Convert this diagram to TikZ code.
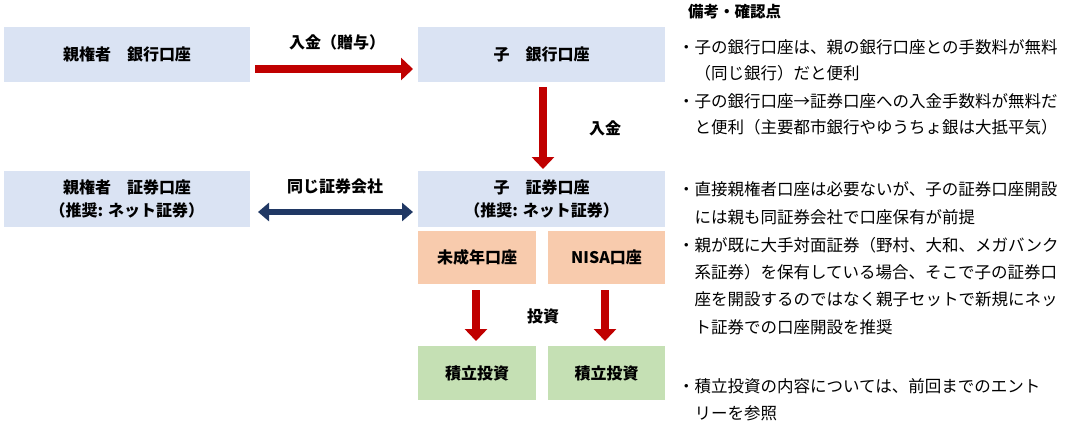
\documentclass[tikz,border=0pt]{standalone}
\usepackage{fontspec}
\setmainfont{Noto Sans CJK JP}
\usetikzlibrary{arrows.meta}
\definecolor{bl}{HTML}{DAE3F3}
\definecolor{og}{HTML}{F8CBAD}
\definecolor{gr}{HTML}{C5E0B4}
\definecolor{rd}{HTML}{C00000}
\definecolor{nv}{HTML}{203864}
\begin{document}
\begin{tikzpicture}[x=1pt,y=-1pt,
 box/.style={draw=none,inner sep=0pt,font=\fontsize{16}{23}\selectfont\bfseries,align=center},
 lab/.style={font=\fontsize{16}{20}\selectfont\bfseries},
 note/.style={anchor=west,inner sep=0pt,font=\fontsize{16.5}{20}\selectfont},
 rarr/.style={draw=rd,line width=8pt,-{Triangle[length=12pt,width=22pt]}},
 barr/.style={draw=nv,line width=6pt,{Triangle[length=11pt,width=18pt]}-{Triangle[length=11pt,width=18pt]}}]
\useasboundingbox (0,0) rectangle (1071,436);
\fill[bl] (4,27) rectangle (250,82); \node[box] (pb) at (127,54.5) {親権者\quad 銀行口座};
\fill[bl] (418,27) rectangle (665,82); \node[box] (cb) at (541.5,54.5) {子\quad 銀行口座};
\fill[bl] (4,171) rectangle (250,227); \node[box] (ps) at (127,199) {親権者\quad 証券口座\\（推奨: ネット証券）};
\fill[bl] (418,171) rectangle (665,227); \node[box] (cs) at (541.5,199) {子\quad 証券口座\\（推奨: ネット証券）};
\fill[og] (418,231) rectangle (536,284); \node[box] (mi) at (477,257.5) {未成年口座};
\fill[og] (548,231) rectangle (665,284); \node[box] (ni) at (606.5,257.5) {NISA口座};
\fill[gr] (418,346) rectangle (536,400); \node[box] (t1) at (477,373) {積立投資};
\fill[gr] (548,346) rectangle (665,400); \node[box] (t2) at (606.5,373) {積立投資};
\coordinate (a1) at (255,69); \coordinate (a2) at (413,69);
\draw[rarr] (a1) -- (a2);
\coordinate (d1) at (543,87); \coordinate (d2) at (543,169);
\draw[rarr] (d1) -- (d2);
\coordinate (b1) at (258,212); \coordinate (b2) at (413,212);
\draw[barr] (b1) -- (b2);
\coordinate (e1) at (476,290); \coordinate (e2) at (476,341);
\draw[rarr] (e1) -- (e2);
\coordinate (f1) at (605,290); \coordinate (f2) at (605,341);
\draw[rarr] (f1) -- (f2);
\node[lab] at (337,42) {入金（贈与）};
\node[lab] at (605,128) {入金};
\node[lab] at (335,186) {同じ証券会社};
\node[lab] at (543,316) {投資};
\node[note,font=\fontsize{15.5}{18}\selectfont\bfseries] at (688,12) {備考・確認点};
\node[note] at (678,47) {・子の銀行口座は、親の銀行口座との手数料が無料};
\node[note] at (678,73) {\hspace{1em}（同じ銀行）だと便利};
\node[note] at (678,101) {・子の銀行口座→証券口座への入金手数料が無料だ};
\node[note] at (678,127) {\hspace{1em}と便利（主要都市銀行やゆうちょ銀は大抵平気）};
\node[note] at (678,189) {・直接親権者口座は必要ないが、子の証券口座開設};
\node[note] at (678,217) {\hspace{1em}には親も同証券会社で口座保有が前提};
\node[note] at (678,245) {・親が既に大手対面証券（野村、大和、メガバンク};
\node[note] at (678,272) {\hspace{1em}系証券）を保有している場合、そこで子の証券口};
\node[note] at (678,299) {\hspace{1em}座を開設するのではなく親子セットで新規にネッ};
\node[note] at (678,327) {\hspace{1em}ト証券での口座開設を推奨};
\node[note] at (678,386) {・積立投資の内容については、前回までのエント};
\node[note] at (678,413) {\hspace{1em}リーを参照};
\end{tikzpicture}
\end{document}
